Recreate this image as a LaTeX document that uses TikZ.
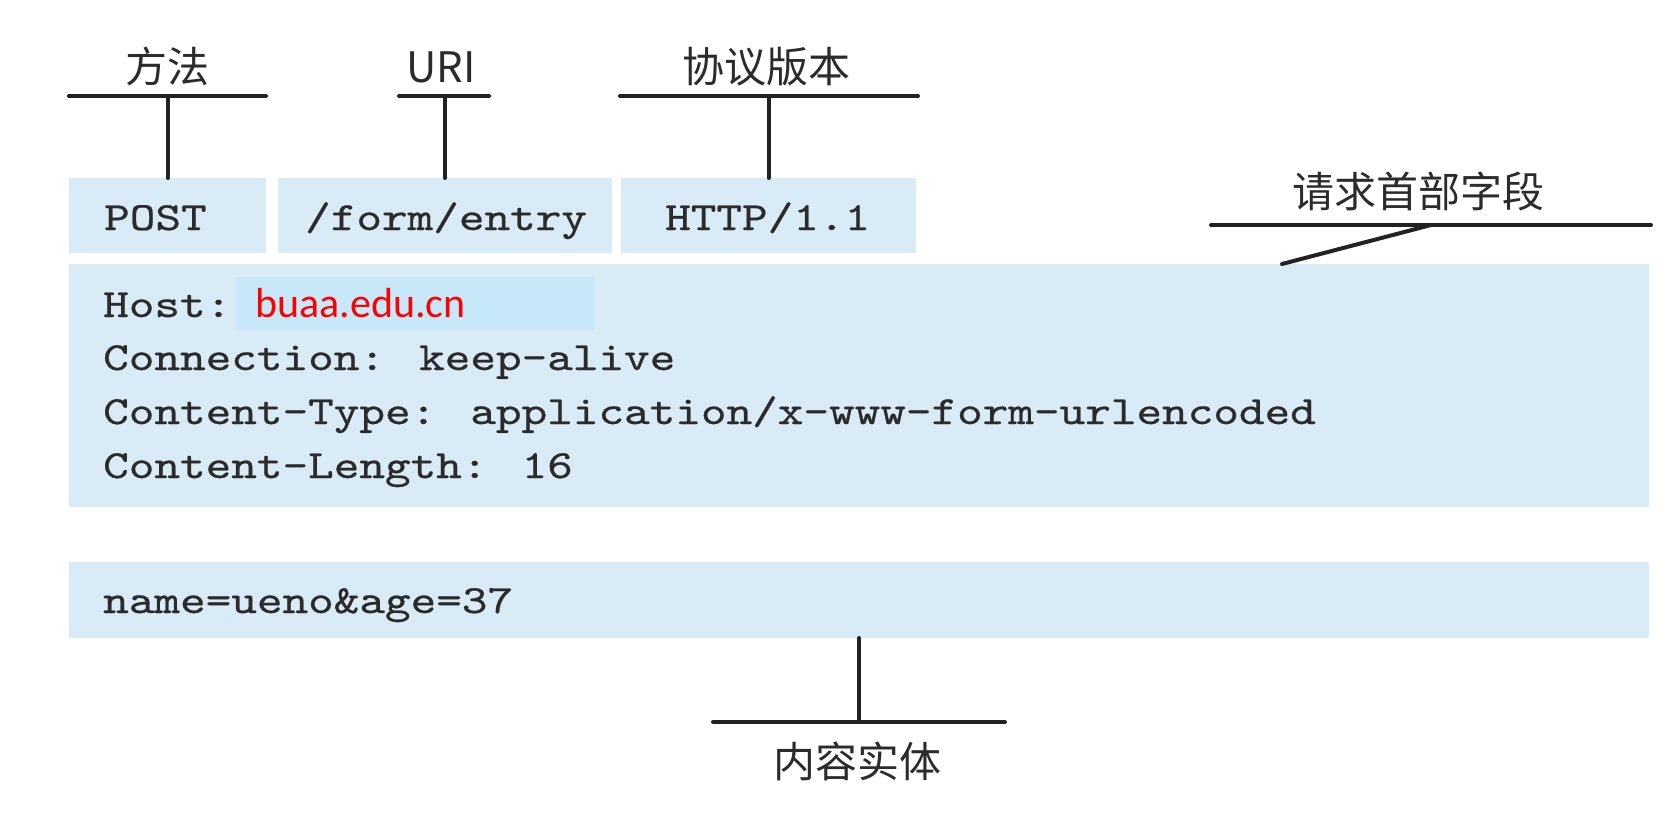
\documentclass[tikz,border=0pt]{standalone}
\usepackage{fontspec}
\newfontfamily\courierish{lmmono10-regular.otf}[FakeStretch=1.22,FakeBold=0.6]
\newfontfamily\cjkfont{Noto Sans CJK SC}
\newfontfamily\carlitofont{Carlito}
\definecolor{boxblue}{HTML}{DAEBF8}
\definecolor{hiblue}{HTML}{C6E8F8}
\definecolor{textgray}{HTML}{2B2B2B}
\definecolor{linegray}{HTML}{222222}
\definecolor{hostred}{HTML}{FF0000}
\begin{document}
\begin{tikzpicture}[x=1pt,y=-1pt,
  box/.style={fill=boxblue, draw=none, inner sep=0pt, outer sep=0pt, anchor=north west},
  hibox/.style={fill=hiblue, draw=none, inner sep=0pt, outer sep=0pt, anchor=north west},
  mono/.style={font=\fontsize{40}{48}\selectfont\courierish, text=textgray, inner sep=0pt, anchor=base west},
  cjk/.style={font=\fontsize{42}{48}\selectfont\cjkfont, text=textgray, inner sep=0pt, anchor=base},
  redtext/.style={font=\fontsize{42}{48}\selectfont\carlitofont, text=hostred, inner sep=0pt, anchor=base west},
  bar/.style={line width=4pt, draw=linegray, line cap=round}]
\useasboundingbox (0,0) rectangle (1668,820);
% boxes
\node[box, minimum width=197pt, minimum height=75pt] (post) at (69,178) {};
\node[box, minimum width=334pt, minimum height=75pt] (uribox) at (278,178) {};
\node[box, minimum width=295pt, minimum height=75pt] (httpbox) at (621,178) {};
\node[box, minimum width=1580pt, minimum height=243pt] (header) at (69,264) {};
\node[hibox, minimum width=359pt, minimum height=53pt] (hostval) at (236,277) {};
\node[box, minimum width=1580pt, minimum height=76pt] (body) at (69,562) {};
% texts
\node[mono] (posttxt) at (104,230) {POST};
\node[mono] (uritxt) at (305,230) {/form/entry};
\node[mono] (httptxt) at (665,230) {HTTP/1.1};
\node[mono] (host) at (103,317) {Host:};
\node[redtext] (hostname) at (255,317) {buaa.edu.cn};
\node[mono] (conn) at (103,370) {Connection: keep-alive};
\node[mono] (ctype) at (103,424) {Content-Type: application/x-www-form-urlencoded};
\node[mono] (clen) at (103,478) {Content-Length: 16};
\node[mono] (bodytxt) at (103,613) {name=ueno\&age=37};
% labels
\node[cjk] (fangfa) at (167,82) {方法};
\node[cjk] (uri) at (441,82) {URI};
\node[cjk] (xieyi) at (766,82) {协议版本};
\node[cjk] (qingqiu) at (1418,207) {请求首部字段};
\node[cjk] (neirong) at (857,777) {内容实体};
% bars
\coordinate (b1l) at (69,96);  \coordinate (b1r) at (266,96);
\coordinate (b2l) at (399,96); \coordinate (b2r) at (489,96);
\coordinate (b3l) at (620,96); \coordinate (b3r) at (918,96);
\coordinate (b4l) at (1211,225); \coordinate (b4r) at (1651,225);
\coordinate (b4m) at (1431,225); \coordinate (b4e) at (1282,264);
\coordinate (b5l) at (713,722); \coordinate (b5r) at (1005,722);
\draw[bar] (b1l) -- (b1r);
\draw[bar] (post.north |- b1l) -- (post.north);
\draw[bar] (b2l) -- (b2r);
\draw[bar] (uribox.north |- b2l) -- (uribox.north);
\draw[bar] (b3l) -- (b3r);
\draw[bar] (httpbox.north |- b3l) -- (httpbox.north);
\draw[bar] (b4l) -- (b4r);
\draw[bar] (b4m) -- (b4e);
\draw[bar] (b5l) -- (b5r);
\draw[bar] (body.south) -- (body.south |- b5l);
\end{tikzpicture}
\end{document}
